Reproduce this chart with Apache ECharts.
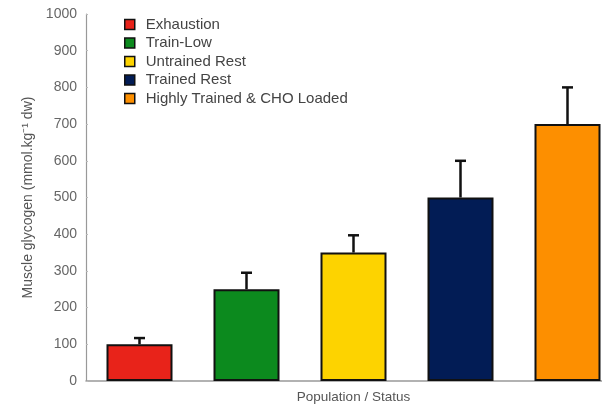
<!DOCTYPE html>
<html>
<head>
<meta charset="utf-8">
<script src="https://cdn.jsdelivr.net/npm/echarts@6/dist/echarts.min.js"></script>
<style>
  html, body { margin: 0; padding: 0; background: #fff; }
  #chart { width: 602px; height: 405px; }
</style>
</head>
<body>
<div id="chart"></div>
<script>
// Muscle glycogen by population / status (mean with upper error bar)
const categories = ['Exhaustion', 'Train-Low', 'Untrained Rest', 'Trained Rest', 'Highly Trained & CHO Loaded'];
const glycogen = [100, 250, 350, 500, 700];
const errorTop = [117, 295, 397, 600, 800];
const barColors = ['#e8231a', '#0c8a1e', '#fdd300', '#021c55', '#fd8f00'];
const yTicks = { min: 0, max: 1000, interval: 100 };

const chart = echarts.init(document.getElementById('chart'));
const font = '"Liberation Sans", Arial, sans-serif';

// One series per category so each gets its own legend entry
const barSeries = categories.map((name, i) => ({
  name: name,
  type: 'bar',
  stack: 'g',
  barWidth: 66,
  itemStyle: { color: barColors[i], borderColor: '#111', borderWidth: 2 },
  data: categories.map((c, j) => (j === i ? glycogen[i] : '-')),
  z: 2
}));

const errorSeries = {
  type: 'custom',
  name: 'error',
  z: 3,
  data: categories.map((c, i) => [i, glycogen[i], errorTop[i]]),
  renderItem: function (params, api) {
    const base = api.coord([api.value(0), api.value(1)]);
    const top = api.coord([api.value(0), api.value(2)]);
    const half = 5.5;
    const style = { stroke: '#111', lineWidth: 2.5 };
    return {
      type: 'group',
      children: [
        { type: 'line', shape: { x1: base[0], y1: base[1], x2: top[0], y2: top[1] }, style: style },
        { type: 'line', shape: { x1: top[0] - half, y1: top[1], x2: top[0] + half, y2: top[1] }, style: style }
      ]
    };
  }
};

chart.setOption({
  animation: false,
  textStyle: { fontFamily: font },
  legend: {
    data: categories,
    orient: 'vertical',
    left: 119,
    top: 12,
    icon: 'rect',
    itemWidth: 10,
    itemHeight: 10,
    itemGap: 3.5,
    itemStyle: { borderColor: '#111', borderWidth: 1.5 },
    textStyle: { fontFamily: font, fontSize: 15, color: '#444', padding: [0, 0, 0, 6] },
    selectedMode: false
  },
  grid: { left: 86, width: 535, top: 14, bottom: 24, outerBoundsMode: 'none', containLabel: false },
  xAxis: {
    type: 'category',
    data: categories,
    name: 'Population / Status',
    nameLocation: 'middle',
    nameGap: 9,
    nameTextStyle: { fontFamily: font, fontSize: 13.5, color: '#555' },
    axisLine: { lineStyle: { color: '#999', width: 1.5 } },
    axisTick: { show: false },
    axisLabel: { show: false }
  },
  yAxis: {
    type: 'value',
    min: yTicks.min,
    max: yTicks.max,
    interval: yTicks.interval,
    name: 'Muscle glycogen (mmol.kg\u207B\u00B9 dw)',
    nameLocation: 'middle',
    nameGap: 43,
    nameTextStyle: { fontFamily: font, fontSize: 14, color: '#555' },
    axisLine: { show: true, lineStyle: { color: '#999', width: 1.2 } },
    axisTick: { show: true, inside: true, length: 2, lineStyle: { color: '#bbb' } },
    axisLabel: { fontFamily: font, fontSize: 14, color: '#666', margin: 9, formatter: v => String(v) },
    splitLine: { show: false }
  },
  series: barSeries.concat([errorSeries])
});
</script>
</body>
</html>
